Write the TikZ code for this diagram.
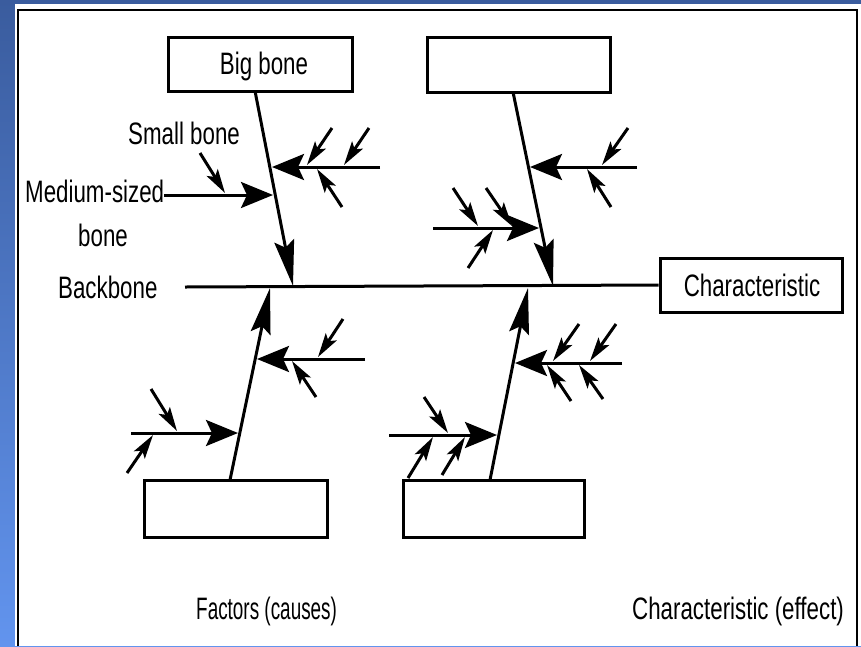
\documentclass[tikz,border=0pt]{standalone}
\usepackage{fontspec}
\setmainfont[FakeStretch=0.72]{Liberation Sans}
\newfontfamily\narrowlbl[FakeStretch=0.61]{Liberation Sans}
\usetikzlibrary{arrows.meta}
\begin{document}
\begin{tikzpicture}[x=1pt,y=-1pt,
  bonebox/.style={draw, line width=3pt, inner sep=0pt},
  lbl/.style={font=\fontsize{31pt}{33pt}\selectfont, inner sep=0pt},
  backbone/.style={line width=3pt},
  bigbone/.style={line width=3pt, -{Stealth[length=46pt,width=20pt,inset=7pt]}},
  medbone/.style={line width=3pt, -{Stealth[length=32pt,width=26pt,inset=6pt]}},
  smallbone/.style={line width=3pt, -{Stealth[length=24pt,width=13pt,inset=5pt]}}]
\useasboundingbox (0,0) rectangle (861,646);
% background and frame
\shade[top color={rgb,255:red,58;green,92;blue,158}, bottom color={rgb,255:red,98;green,148;blue,238}] (0,0) rectangle (861,646);
\fill[white] (15,4) rectangle (861,646);
\draw[line width=2.5pt] (18,646) -- (18,10) -- (857,10) -- (857,646);

% boxes
\node[bonebox, minimum width=184pt, minimum height=54pt] (bb1) at (260,64) {};
\node[lbl, anchor=base] (bb1t) at (264,74) {Big bone};
\node[bonebox, minimum width=183pt, minimum height=55pt] (bb2) at (518.5,64.5) {};
\node[bonebox, minimum width=182pt, minimum height=54pt] (char) at (751,285) {};
\node[lbl, anchor=base] (chart) at (752,296) {Characteristic};
\node[bonebox, minimum width=183pt, minimum height=57pt] (bb3) at (235.5,508.5) {};
\node[bonebox, minimum width=181pt, minimum height=57pt] (bb4) at (493.5,508.5) {};

% labels
\node[lbl, anchor=base west] (small) at (128,144) {Small bone};
\node[lbl, anchor=base west] (med) at (25,202) {Medium-sized};
\node[lbl, anchor=base west] (medb) at (78,246) {bone};
\node[lbl, anchor=base west] (back) at (58,298) {Backbone};
\node[lbl, anchor=base west] (fac) at (196,619) {\narrowlbl Factors (causes)};
\node[lbl, anchor=base west] (eff) at (632,619) {Characteristic (effect)};

% backbone
\coordinate (bbL) at (185,287);
\draw[backbone] (bbL) -- (char.west);

% big bones
\coordinate (s1) at (255,91);  \coordinate (e1) at (293,286);
\coordinate (s2) at (513,92);  \coordinate (e2) at (553,286);
\coordinate (s3) at (230,480); \coordinate (e3) at (270,288);
\coordinate (s4) at (490,480); \coordinate (e4) at (528,288);
\draw[bigbone] (s1) -- (e1);
\draw[bigbone] (s2) -- (e2);
\draw[bigbone] (s3) -- (e3);
\draw[bigbone] (s4) -- (e4);

% medium bones
\coordinate (t1a) at (273,195); \draw[medbone] (med.east |- t1a) -- (t1a);
\coordinate (m1b) at (380,167); \coordinate (t1b) at (272,167); \draw[medbone] (m1b) -- (t1b);
\coordinate (m2a) at (637,167); \coordinate (t2a) at (530,167); \draw[medbone] (m2a) -- (t2a);
\coordinate (m2b) at (433,228); \coordinate (t2b) at (539,228); \draw[medbone] (m2b) -- (t2b);
\coordinate (m3a) at (365,359); \coordinate (t3a) at (257,359); \draw[medbone] (m3a) -- (t3a);
\coordinate (m3b) at (131,433); \coordinate (t3b) at (238,433); \draw[medbone] (m3b) -- (t3b);
\coordinate (m4a) at (622,363); \coordinate (t4a) at (515,363); \draw[medbone] (m4a) -- (t4a);
\coordinate (m4b) at (389,435); \coordinate (t4b) at (497,435); \draw[medbone] (m4b) -- (t4b);

% small bones
\foreach \a/\b in {
  {(200,153)}/{(225,193)},
  {(332,128)}/{(307,165)}, {(369,128)}/{(344,165)}, {(342,207)}/{(317,169)},
  {(628,128)}/{(602,165)}, {(611,207)}/{(587,169)},
  {(453,188)}/{(478,226)}, {(486,188)}/{(512,226)}, {(468,268)}/{(493,230)},
  {(343,319)}/{(318,357)}, {(316,397)}/{(292,361)},
  {(151,389)}/{(177,431)}, {(127,473)}/{(153,435)},
  {(579,324)}/{(553,361)}, {(616,324)}/{(590,361)}, {(571,401)}/{(547,365)}, {(603,399)}/{(579,365)},
  {(424,397)}/{(448,433)}, {(408,478)}/{(433,437)}, {(442,475)}/{(465,437)}}
  \draw[smallbone] \a -- \b;
\end{tikzpicture}
\end{document}
